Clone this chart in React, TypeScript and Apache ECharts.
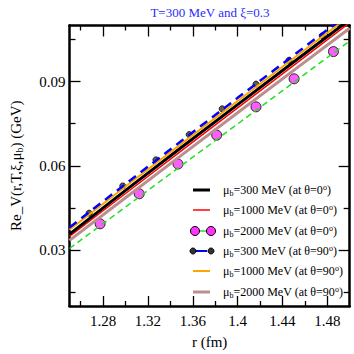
import React, { useEffect, useRef } from "react";
import * as echarts from "echarts";

const rGrid = [1.25, 1.3, 1.35, 1.4, 1.45, 1.5];
const mu300Theta0 = [0.0356, 0.0512, 0.0666, 0.0818, 0.097, 0.1121];
const mu1000Theta0 = [0.0348, 0.0501, 0.0654, 0.0806, 0.0958, 0.111];
const mu2000Theta0 = [0.0305, 0.0453, 0.0601, 0.0749, 0.0897, 0.1045];
const mu300Theta90 = [0.038, 0.0535, 0.0689, 0.0842, 0.0994, 0.1145];
const mu1000Theta90 = [0.0372, 0.0526, 0.0679, 0.0831, 0.0983, 0.1134];
const mu2000Theta90 = [0.0334, 0.0486, 0.0638, 0.0789, 0.094, 0.109];

const mu2000Theta0PtsR = [1.2773, 1.3122, 1.3468, 1.3813, 1.4164, 1.4504, 1.4855];
const mu2000Theta0PtsV = [0.0393, 0.05, 0.0606, 0.0709, 0.081, 0.091, 0.1007];
const mu300Theta90PtsR = [1.2675, 1.2975, 1.3271, 1.3568, 1.3862, 1.4164, 1.4458, 1.4755];
const mu300Theta90PtsV = [0.0431, 0.0528, 0.0621, 0.0711, 0.0803, 0.0891, 0.0976, 0.1063];

const xMajorTicks = [1.28, 1.32, 1.36, 1.4, 1.44, 1.48];
const xMinorTicks = [1.26, 1.3, 1.34, 1.38, 1.42, 1.46];
const yMajorTicks = [0.03, 0.06, 0.09];
const yMinorTicks = [0.015, 0.045, 0.075, 0.105];

const legendLabels = [
  "μ{sub|b}=300 MeV (at θ=0{sup|o})",
  "μ{sub|b}=1000 MeV (at θ=0{sup|o})",
  "μ{sub|b}=2000 MeV (at θ=0{sup|o})",
  "μ{sub|b}=300 MeV (at θ=90{sup|o})",
  "μ{sub|b}=1000 MeV (at θ=90{sup|o})",
  "μ{sub|b}=2000 MeV (at θ=90{sup|o})",
];

const FONT = "Liberation Serif";
const X_MIN = 1.25, X_MAX = 1.5, Y_MIN = 0.01, Y_MAX = 0.11;

const pair = (xs: number[], ys: number[]) => xs.map((x, i) => [x, ys[i]]);

function xAxis(position: string, ticks: number[], len: number, showLine: boolean, showLabel: boolean, name?: string) {
  return {
    type: "value", position, min: X_MIN, max: X_MAX,
    splitLine: { show: false },
    axisLine: { show: showLine, onZero: false, lineStyle: { color: "#000", width: 2.5 } },
    axisTick: { show: true, inside: true, length: len, customValues: ticks, lineStyle: { color: "#000", width: 1.3 } },
    axisLabel: {
      show: showLabel, customValues: ticks, margin: 7,
      fontFamily: FONT, fontSize: 15, color: "#000",
      formatter: (v: number) => String(+v.toFixed(2)),
    },
    name: name || "", nameLocation: "middle", nameGap: 28,
    nameTextStyle: { fontFamily: FONT, fontSize: 15, color: "#000" },
  };
}

function yAxis(position: string, ticks: number[], len: number, showLine: boolean, showLabel: boolean, name?: string) {
  return {
    type: "value", position, min: Y_MIN, max: Y_MAX,
    splitLine: { show: false },
    axisLine: { show: showLine, onZero: false, lineStyle: { color: "#000", width: 2.5 } },
    axisTick: { show: true, inside: true, length: len, customValues: ticks, lineStyle: { color: "#000", width: 1.3 } },
    axisLabel: {
      show: showLabel, customValues: ticks, margin: 4,
      fontFamily: FONT, fontSize: 15, color: "#000",
      formatter: (v: number) => v.toFixed(2),
    },
    name: name || "", nameLocation: "middle", nameGap: 45, nameRotate: 90,
    nameTextStyle: {
      fontFamily: FONT, fontSize: 15, color: "#000",
      rich: { sub: { fontFamily: FONT, fontSize: 10, color: "#000", verticalAlign: "bottom", padding: [8, 0, 0, 0] } },
    },
  };
}

export default function App() {
  const ref = useRef<HTMLDivElement>(null);
  useEffect(() => {
    if (!ref.current) return;
    const chart = echarts.init(ref.current, null, { renderer: "svg" });
    const rowY = [190, 210, 231, 251, 271, 292];
    const legendGraphics: any[] = [];
    const lineSpec = [
      { stroke: "#000", w: 3 },
      { stroke: "#ff0000", w: 1.5 },
      null,
      null,
      { stroke: "#ffa500", w: 2 },
      { stroke: "#bc8f8f", w: 3 },
    ];
    rowY.forEach((y, i) => {
      const s = lineSpec[i];
      if (s) {
        legendGraphics.push({ type: "line", shape: { x1: 193, y1: y, x2: 210, y2: y }, style: { stroke: s.stroke, lineWidth: s.w } });
      } else if (i === 2) {
        legendGraphics.push({ type: "line", shape: { x1: 199, y1: y, x2: 207, y2: y }, style: { stroke: "#22dd22", lineWidth: 1.5 } });
        legendGraphics.push({ type: "circle", shape: { cx: 195, cy: y, r: 4.5 }, style: { fill: "#ff33ff", stroke: "#000", lineWidth: 1 } });
        legendGraphics.push({ type: "circle", shape: { cx: 211, cy: y, r: 4.5 }, style: { fill: "#ff33ff", stroke: "#000", lineWidth: 1 } });
      } else {
        legendGraphics.push({ type: "line", shape: { x1: 195, y1: y, x2: 207, y2: y }, style: { stroke: "#0000ff", lineWidth: 2 } });
        legendGraphics.push({ type: "circle", shape: { cx: 193, cy: y, r: 3 }, style: { fill: "#333", stroke: "#000", lineWidth: 1 } });
        legendGraphics.push({ type: "circle", shape: { cx: 211, cy: y, r: 3 }, style: { fill: "#333", stroke: "#000", lineWidth: 1 } });
      }
      legendGraphics.push({
        type: "text", x: 223, y,
        style: {
          text: legendLabels[i], fontFamily: FONT, fontSize: 12, fill: "#000", verticalAlign: "middle",
          rich: {
            sub: { fontFamily: FONT, fontSize: 8, fill: "#000", verticalAlign: "bottom", padding: [6, 0, 0, 0] },
            sup: { fontFamily: FONT, fontSize: 8, fill: "#000", verticalAlign: "top", padding: [0, 0, 6, 0] },
          },
        },
      });
    });

    chart.setOption({
      animation: false,
      backgroundColor: "#fff",
      title: {
        text: "T=300 MeV and ξ=0.3", left: 205, top: 1, textAlign: "center",
        textStyle: { fontFamily: FONT, fontSize: 13, fontWeight: "normal", color: "#2b2bff" },
      },
      grid: { left: 60.7, right: 4.3, top: 25.5, bottom: 39 },
      xAxis: [
        xAxis("bottom", xMajorTicks, 10, true, true, "r (fm)"),
        xAxis("bottom", xMinorTicks, 5, false, false),
        xAxis("top", xMajorTicks, 11, true, false),
        xAxis("top", xMinorTicks, 5, false, false),
      ],
      yAxis: [
        yAxis("left", yMajorTicks, 11, true, true, "Re_V(r,T,ξ,μ{sub|b}) (GeV)"),
        yAxis("left", yMinorTicks, 6, false, false),
        yAxis("right", yMajorTicks, 11, true, false),
        yAxis("right", yMinorTicks, 6, false, false),
      ],
      series: [
        { type: "line", name: "mu2000_theta90", data: pair(rGrid, mu2000Theta90), showSymbol: false, lineStyle: { color: "#bc8f8f", width: 3 } },
        { type: "line", name: "mu2000_theta0", data: pair(rGrid, mu2000Theta0), showSymbol: false, lineStyle: { color: "#22dd22", width: 1.5, type: [6, 4] } },
        { type: "line", name: "mu1000_theta0", data: pair(rGrid, mu1000Theta0), showSymbol: false, lineStyle: { color: "#ff0000", width: 1.5 } },
        { type: "line", name: "mu300_theta0", data: pair(rGrid, mu300Theta0), showSymbol: false, lineStyle: { color: "#000", width: 3 } },
        { type: "line", name: "mu1000_theta90", data: pair(rGrid, mu1000Theta90), showSymbol: false, lineStyle: { color: "#ffa500", width: 2 } },
        { type: "line", name: "mu300_theta90", data: pair(rGrid, mu300Theta90), showSymbol: false, lineStyle: { color: "#0000ff", width: 2.5, type: [9, 6] } },
        { type: "scatter", name: "mu2000_theta0_pts", data: pair(mu2000Theta0PtsR, mu2000Theta0PtsV), symbol: "circle", symbolSize: 10, itemStyle: { color: "#ff33ff", borderColor: "#000", borderWidth: 1 } },
        { type: "scatter", name: "mu300_theta90_pts", data: pair(mu300Theta90PtsR, mu300Theta90PtsV), symbol: "circle", symbolSize: 6, itemStyle: { color: "#333", borderColor: "#000", borderWidth: 1 } },
      ],
      graphic: legendGraphics,
    });
    return () => chart.dispose();
  }, []);
  return <div ref={ref} style={{ position: "fixed", left: 0, top: 0, width: 354, height: 354 }} />;
}
